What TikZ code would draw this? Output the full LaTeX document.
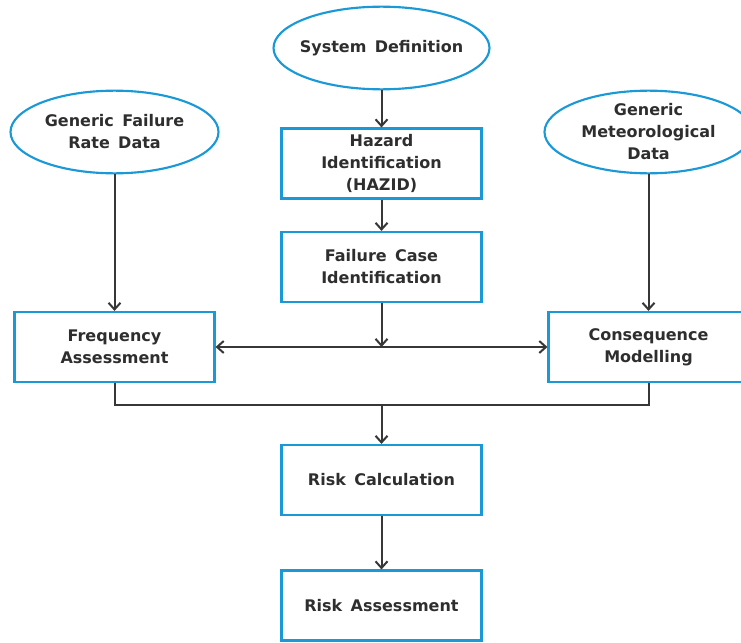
\documentclass[tikz,border=0pt]{standalone}
\usepackage{fontspec}
\setmainfont{DejaVu Sans}[WordSpace=1.5]
\usetikzlibrary{shapes.geometric,arrows.meta}
\definecolor{boxblue}{RGB}{27,152,214}
\definecolor{linegray}{RGB}{55,55,55}
\begin{document}
\begin{tikzpicture}[x=0.75pt, y=-0.75pt,
    txt/.style={font=\bfseries\fontsize{12}{16.5}\selectfont, text=black!82, align=center},
    stepbox/.style={txt, draw=boxblue, line width=1.6pt, minimum width=150pt, minimum height=52.5pt, inner sep=0pt},
    datablob/.style={txt, ellipse, draw=boxblue, line width=1.6pt, minimum width=156pt, minimum height=62pt, inner xsep=-4pt, inner ysep=0pt},
    flow/.style={draw=linegray, line width=1.5pt, -{Straight Barb[length=5pt,width=9pt]}},
    link/.style={draw=linegray, line width=1.5pt}]
    \clip (0,0) rectangle (741,642);

    % Inputs
    \node[datablob] (sysdef) at (381.5,48) {System Definition};
    \node[datablob] (genfail) at (114.5,132) {Generic Failure\\Rate Data};
    \node[datablob] (genmet) at (648.5,132) {Generic\\Meteorological\\Data};

    % Steps
    \node[stepbox] (hazid) at (381.5,163.5) {Hazard\\Identification\\(HAZID)};
    \node[stepbox] (failcase) at (381.5,267) {Failure Case\\Identification};
    \node[stepbox] (freq) at (114.5,347) {Frequency\\Assessment};
    \node[stepbox] (conseq) at (648.5,347) {Consequence\\Modelling};
    \node[stepbox] (riskcalc) at (381.5,480) {Risk Calculation};
    \node[stepbox] (riskass) at (381.5,605.5) {Risk Assessment};

    % Connectors
    \coordinate (split) at (failcase.south |- freq.east);
    \coordinate (merge) at (381.5,405);
    \draw[flow] (sysdef) -- (hazid);
    \draw[flow] (hazid) -- (failcase);
    \draw[flow] (failcase) -- (split);
    \draw[flow, {Straight Barb[length=5pt,width=9pt]}-{Straight Barb[length=5pt,width=9pt]}] (freq) -- (conseq);
    \draw[flow] (genfail) -- (freq);
    \draw[flow] (genmet) -- (conseq);
    \draw[link] (freq.south) |- (merge) -| (conseq.south);
    \draw[flow] (merge) -- (riskcalc);
    \draw[flow] (riskcalc) -- (riskass);
\end{tikzpicture}
\end{document}
